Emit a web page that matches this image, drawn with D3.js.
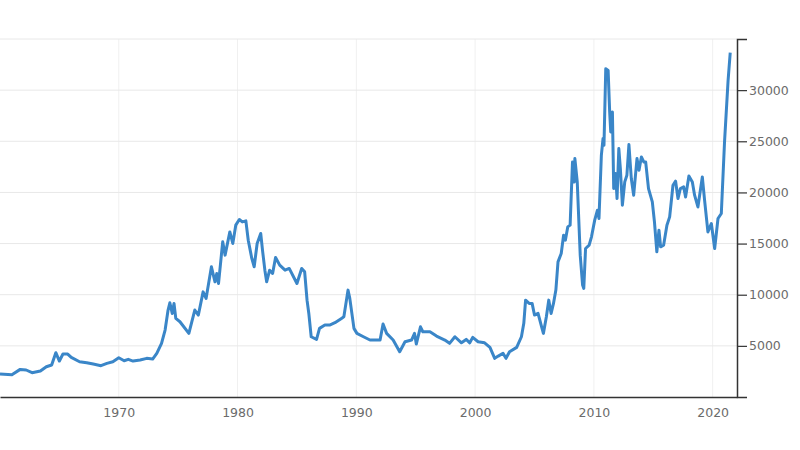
<!DOCTYPE html>
<html>
<head>
<meta charset="utf-8">
<script src="https://cdn.jsdelivr.net/npm/d3@7"></script>
<style>
  body { margin: 0; background: #fff; }
  .tick text { font-family: "DejaVu Sans", sans-serif; font-size: 12.5px; fill: #6b6b6b; }
</style>
</head>
<body>
<svg id="chart" width="800" height="450"></svg>
<script>
// series (decimal year, price)
var years = [1960, 1961.0, 1961.7, 1962.2, 1962.7, 1963.4, 1963.9, 1964.35, 1964.7, 1965.0,
  1965.3, 1965.7, 1966.0, 1966.7, 1967.3, 1967.85, 1968.5, 1969.0, 1969.5, 1970.0,
  1970.45, 1970.8, 1971.2, 1971.8, 1972.35, 1972.85, 1973.2, 1973.6, 1973.9, 1974.15,
  1974.3, 1974.5, 1974.65, 1974.8, 1975.15, 1975.9, 1976.4, 1976.7, 1977.1, 1977.35,
  1977.8, 1978.1, 1978.25, 1978.4, 1978.75, 1978.95, 1979.35, 1979.6, 1979.85, 1980.15,
  1980.4, 1980.7, 1980.9, 1981.2, 1981.4, 1981.65, 1981.95, 1982.1, 1982.3, 1982.45,
  1982.7, 1982.95, 1983.2, 1983.55, 1984.0, 1984.35, 1985.0, 1985.4, 1985.65, 1985.85,
  1986.0, 1986.2, 1986.65, 1986.9, 1987.35, 1987.75, 1988.2, 1988.75, 1988.95, 1989.3,
  1989.45, 1989.8, 1990.05, 1990.6, 1991.15, 1992.0, 1992.25, 1992.55, 1993.1, 1993.65,
  1994.1, 1994.65, 1994.9, 1995.05, 1995.4, 1995.6, 1996.2, 1996.75, 1997.45, 1997.85,
  1998.3, 1998.85, 1999.25, 1999.55, 1999.8, 2000.25, 2000.8, 2001.25, 2001.65, 2001.95,
  2002.35, 2002.6, 2002.9, 2003.5, 2003.9, 2004.1, 2004.25, 2004.55, 2004.8, 2005.0,
  2005.3, 2005.6, 2005.75, 2006.0, 2006.2, 2006.4, 2006.6, 2006.8, 2006.98, 2007.25,
  2007.45, 2007.6, 2007.8, 2008.0, 2008.2, 2008.35, 2008.4, 2008.6, 2008.85, 2009.05,
  2009.15, 2009.3, 2009.6, 2009.8, 2010.07, 2010.3, 2010.43, 2010.63, 2010.77, 2010.85,
  2011.0, 2011.2, 2011.33, 2011.42, 2011.56, 2011.67, 2011.83, 2011.95, 2012.1, 2012.23,
  2012.4, 2012.6, 2012.78, 2012.95, 2013.15, 2013.35, 2013.63, 2013.8, 2014.0, 2014.2,
  2014.36, 2014.6, 2014.92, 2015.1, 2015.3, 2015.48, 2015.62, 2015.87, 2016.15, 2016.38,
  2016.66, 2016.88, 2017.08, 2017.28, 2017.56, 2017.72, 2018.0, 2018.29, 2018.48, 2018.76,
  2019.13, 2019.32, 2019.6, 2019.89, 2020.17, 2020.45, 2020.73, 2021.0, 2021.3, 2021.48];

var prices = [2250, 2180, 2700, 2640, 2380, 2540, 2960, 3125, 4330, 3515,
  4200, 4200, 3875, 3450, 3350, 3220, 3060, 3290, 3450, 3840,
  3545, 3680, 3515, 3615, 3780, 3710, 4270, 5245, 6545, 8500,
  9210, 8170, 9150, 7685, 7355, 6220, 8500, 8010, 10280, 9640,
  12730, 11260, 12080, 11100, 15170, 13870, 16140, 15010, 16800, 17350,
  17120, 17220, 15330, 13545, 12730, 15010, 15990, 14355, 12400, 11260,
  12400, 12080, 13640, 12890, 12400, 12570, 11100, 12570, 12240, 9470,
  8170, 5890, 5630, 6710, 7030, 7030, 7260, 7685, 7840, 10450,
  9640, 6710, 6220, 5890, 5570, 5570, 7130, 6220, 5570, 4425,
  5400, 5570, 6220, 5175, 6865, 6380, 6380, 5960, 5570, 5245,
  5890, 5300, 5630, 5300, 5830, 5400, 5300, 4850, 3780, 4000,
  4270, 3780, 4425, 4850, 5890, 7200, 9470, 9150, 9150, 8010,
  8170, 6865, 6220, 7840, 9470, 8170, 9150, 10450, 13210, 14030,
  15820, 15330, 16630, 16800, 22980, 21030, 23310, 21030, 13870, 10940,
  10620, 14520, 14840, 15660, 17290, 18260, 17450, 23630, 25260, 24610,
  32100, 31930, 27860, 25910, 27860, 20380, 21850, 19400, 24290, 22330,
  18750, 21030, 21680, 24680, 21360, 19730, 23310, 22170, 23470, 22980,
  22980, 20380, 19070, 17120, 14190, 16310, 14680, 14840, 16800, 17610,
  20700, 21100, 19400, 20380, 20540, 19560, 21610, 21030, 19730, 18580,
  21510, 19240, 16140, 16960, 14520, 17450, 17940, 24930, 30960, 33660];

var yearTicks = [1970, 1980, 1990, 2000, 2010, 2020];
var priceTicks = [5000, 10000, 15000, 20000, 25000, 30000];

var data = years.map(function(y, i) { return {year: y, price: prices[i]}; });

var svg = d3.select("#chart"),
  margin = {top: 39, right: 63, bottom: 53, left: 0},
  width = +svg.attr("width") - margin.left - margin.right,
  height = +svg.attr("height") - margin.top - margin.bottom;

var g = svg.append("g").attr("transform", "translate(" + margin.left + "," + margin.top + ")");

var x = d3.scaleLinear().domain([1960, 2022.05]).range([0, width]);
var y = d3.scaleLinear().domain([0, 35000]).range([height, 0]);

// grid
g.append("g").selectAll("line")
  .data(yearTicks)
  .enter().append("line")
    .attr("x1", function(d) { return x(d); })
    .attr("x2", function(d) { return x(d); })
    .attr("y1", 0).attr("y2", height)
    .attr("stroke", "#f0f0f0");

g.append("g").selectAll("line")
  .data(priceTicks.concat([35000]))
  .enter().append("line")
    .attr("x1", 0).attr("x2", width)
    .attr("y1", function(d) { return y(d); })
    .attr("y2", function(d) { return y(d); })
    .attr("stroke", "#e8e8e8");

// axes
var xAxis = g.append("g")
  .attr("transform", "translate(0," + height + ")")
  .call(d3.axisBottom(x).tickValues(yearTicks).tickFormat(d3.format("d")).tickSize(0).tickPadding(11));
xAxis.select(".domain").attr("stroke", "#333").attr("stroke-width", 1.5);

var yAxis = g.append("g")
  .attr("transform", "translate(" + width + ",0)")
  .call(d3.axisRight(y).tickValues(priceTicks).tickFormat(d3.format("d")).tickSize(10).tickPadding(2));
yAxis.select(".domain").attr("stroke", "#333").attr("stroke-width", 1.5);
yAxis.selectAll(".tick line").attr("stroke", "#333").attr("stroke-width", 1.2);

// line
var line = d3.line()
  .x(function(d) { return x(d.year); })
  .y(function(d) { return y(d.price); });

g.append("path")
  .datum(data)
  .attr("fill", "none")
  .attr("stroke", "#3a86c8")
  .attr("stroke-width", 3)
  .attr("stroke-linejoin", "round")
  .attr("d", line);
</script>
</body>
</html>
